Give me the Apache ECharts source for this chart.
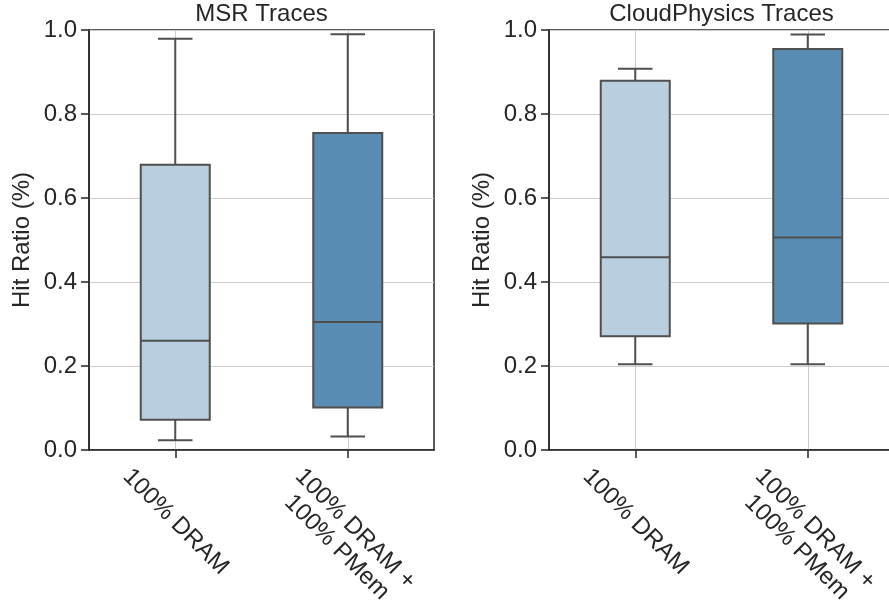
<!DOCTYPE html>
<html>
<head>
<meta charset="utf-8">
<script src="https://cdn.jsdelivr.net/npm/echarts@6/dist/echarts.min.js"></script>
<style>
  html, body { margin: 0; padding: 0; background: #ffffff; }
  #main { width: 889px; height: 609px; }
</style>
</head>
<body>
<div id="main"></div>
<script>
// categories on the x axis (same for both panels)
const categories = ['100% DRAM', '100% DRAM +\n100% PMem'];
// box stats per category: [min, q1, median, q3, max]
const msrStats = [
    [0.023, 0.072, 0.260, 0.679, 0.979],
    [0.032, 0.101, 0.305, 0.755, 0.990]
];
const cloudStats = [
    [0.204, 0.271, 0.459, 0.879, 0.908],
    [0.204, 0.301, 0.506, 0.955, 0.989]
];
const yTicks = [0, 0.2, 0.4, 0.6, 0.8, 1.0];
const panelTitles = ['MSR Traces', 'CloudPhysics Traces'];

const boxColors = ['#b9cfe0', '#5a8db3'];
const edgeColor = '#4f4f4f';
const textColor = '#262626';
const fontFamily = "'Liberation Sans', Arial, sans-serif";

// rotated labels: one-liners sit a bit higher so both tops line up
const labelStyles = [
    { align: 'center', verticalAlign: 'bottom', padding: [0, 25, 0, 0] },
    { align: 'center', verticalAlign: 'middle', padding: [0, 5, 0, 0] }
];

const chart = echarts.init(document.getElementById('main'));

function renderBox(params, api) {
    const idx = api.value(0);
    const bandW = api.size([1, 0])[0];
    const boxW = bandW * 0.4;
    const capW = boxW / 2;
    const pMin = api.coord([idx, api.value(1)]);
    const pQ1 = api.coord([idx, api.value(2)]);
    const pMed = api.coord([idx, api.value(3)]);
    const pQ3 = api.coord([idx, api.value(4)]);
    const pMax = api.coord([idx, api.value(5)]);
    const x = pQ1[0];
    const line = { stroke: edgeColor, lineWidth: 2 };
    return {
        type: 'group',
        children: [
            { type: 'line', shape: { x1: x, y1: pMin[1], x2: x, y2: pQ1[1] }, style: line },
            { type: 'line', shape: { x1: x, y1: pQ3[1], x2: x, y2: pMax[1] }, style: line },
            { type: 'line', shape: { x1: x - capW / 2, y1: pMin[1], x2: x + capW / 2, y2: pMin[1] }, style: line },
            { type: 'line', shape: { x1: x - capW / 2, y1: pMax[1], x2: x + capW / 2, y2: pMax[1] }, style: line },
            {
                type: 'rect',
                shape: { x: x - boxW / 2, y: pQ3[1], width: boxW, height: pQ1[1] - pQ3[1] },
                style: { fill: boxColors[idx], stroke: edgeColor, lineWidth: 2 }
            },
            { type: 'line', shape: { x1: x - boxW / 2, y1: pMed[1], x2: x + boxW / 2, y2: pMed[1] }, style: line }
        ]
    };
}

function boxData(stats) {
    return stats.map((s, i) => [i].concat(s));
}

const gridLefts = [89, 549];

const option = {
    backgroundColor: '#ffffff',
    animation: false,
    title: panelTitles.map((t, i) => ({
        text: t,
        left: gridLefts[i] + 172.5,
        top: 2,
        padding: 0,
        textAlign: 'center',
        textStyle: { fontSize: 24, fontWeight: 'normal', color: textColor, fontFamily: fontFamily }
    })),
    grid: gridLefts.map(l => ({
        left: l, top: 30, width: 345, height: 420,
        outerBoundsMode: 'none',
        containLabel: false,
        show: true, borderColor: textColor, borderWidth: 1.5, backgroundColor: 'transparent'
    })),
    xAxis: [0, 1].map(i => ({
        type: 'category',
        gridIndex: i,
        data: categories.map((c, k) => ({ value: c, textStyle: labelStyles[k] })),
        axisLine: { lineStyle: { color: textColor, width: 1.5 } },
        axisTick: { show: true, alignWithLabel: true, length: 8, lineStyle: { color: textColor, width: 1.5 } },
        splitLine: { show: true, alignWithLabel: true, lineStyle: { color: '#cccccc', width: 1 } },
        axisLabel: {
            interval: 0,
            rotate: -45,
            align: 'center',
            verticalAlign: 'middle',
            margin: 90,
            fontSize: 24,
            lineHeight: 26,
            color: textColor,
            fontFamily: fontFamily
        }
    })),
    yAxis: [0, 1].map(i => ({
        type: 'value',
        gridIndex: i,
        min: yTicks[0],
        max: yTicks[yTicks.length - 1],
        interval: 0.2,
        name: 'Hit Ratio (%)',
        nameLocation: 'middle',
        nameGap: 55,
        nameTextStyle: { fontSize: 24, color: textColor, fontFamily: fontFamily },
        axisLine: { show: true, lineStyle: { color: textColor, width: 1.5 } },
        axisTick: { show: true, length: 8, lineStyle: { color: textColor, width: 1.5 } },
        splitLine: { show: true, lineStyle: { color: '#cccccc', width: 1 } },
        axisLabel: {
            margin: 12,
            fontSize: 24,
            color: textColor,
            fontFamily: fontFamily,
            formatter: v => v.toFixed(1)
        }
    })),
    series: [msrStats, cloudStats].map((stats, i) => ({
        type: 'custom',
        xAxisIndex: i,
        yAxisIndex: i,
        renderItem: renderBox,
        encode: { x: 0, y: [1, 2, 3, 4, 5] },
        data: boxData(stats),
        z: 5
    }))
};

chart.setOption(option);
</script>
</body>
</html>
